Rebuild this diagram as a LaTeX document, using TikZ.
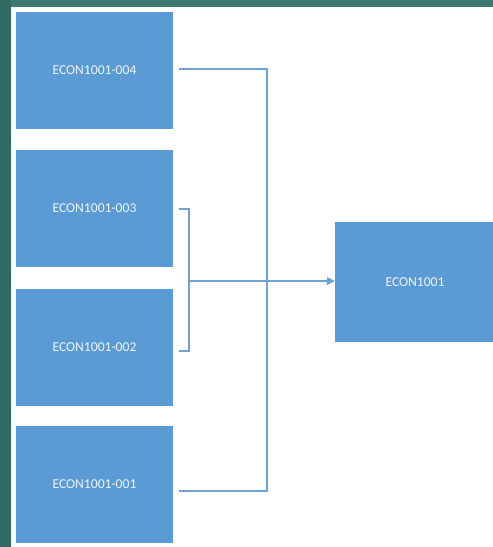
\documentclass[tikz,border=0pt]{standalone}
\usepackage{fontspec}
\setmainfont{Carlito}
\usetikzlibrary{arrows.meta}
\definecolor{boxblue}{HTML}{5B9BD5}
\definecolor{lineblue}{HTML}{6FA3D6}
\definecolor{tealbg}{HTML}{2F6B64}
\definecolor{tealtop}{HTML}{3D7A70}
\definecolor{txtwhite}{HTML}{EEF4FA}
\begin{document}
\begin{tikzpicture}[x=1pt,y=-1pt,
  bx/.style={fill=boxblue,draw=none,minimum width=157pt,minimum height=117pt,inner sep=0pt,
    font=\fontsize{13.6}{16}\selectfont,text=txtwhite},
  conn/.style={draw=lineblue,line width=1.3pt}]
\useasboundingbox (0,0) rectangle (493,547);
\fill[tealbg] (0,0) rectangle (493,547);
\fill[tealtop] (11,0) rectangle (493,7);
\fill[white] (11,7) rectangle (493,547);
\node[bx] (b4) at (94.5,70.5) {ECON1001-004};
\node[bx] (b3) at (94.5,208.5) {ECON1001-003};
\node[bx] (b2) at (94.5,347) {ECON1001-002};
\node[bx] (b1) at (94.5,484.5) {ECON1001-001};
\node[bx,minimum width=160pt,minimum height=120pt] (m) at (415,282) {ECON1001};
\coordinate (c4) at (179,69);
\coordinate (c1) at (179,491);
\coordinate (c3) at (179,209);
\coordinate (c2) at (179,351);
\coordinate (bm) at (189,281);
\draw[conn] (c4) -| (267,491) -- (c1);
\draw[conn] (c3) -| (189,351) -- (c2);
\draw[conn,-{Triangle[length=8pt,width=8pt]}] (bm) -- (bm -| m.west);
\end{tikzpicture}
\end{document}
